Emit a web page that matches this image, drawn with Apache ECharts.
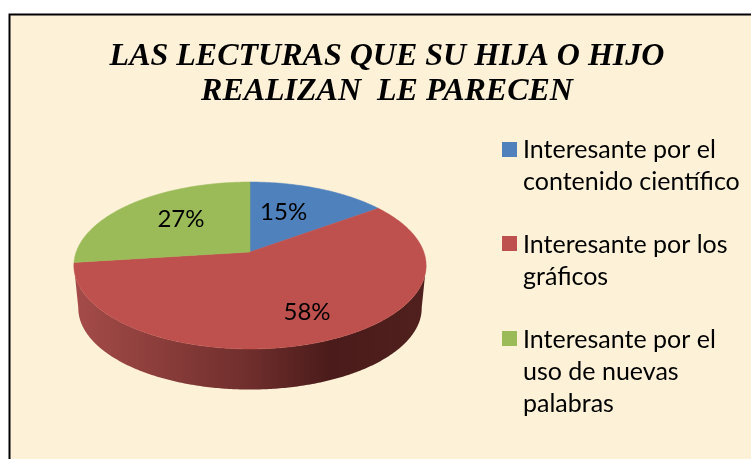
<!DOCTYPE html>
<html><head><meta charset="utf-8">
<style>html,body{margin:0;padding:0;background:#fff}#c{width:751px;height:459px}</style>
<script src="https://cdn.jsdelivr.net/npm/echarts@6/dist/echarts.min.js"></script>
</head><body><div id="c"></div>
<script>
const categories = ["Interesante por el contenido científico","Interesante por los gráficos","Interesante por el uso de nuevas palabras"];
const values = [15, 58, 27];
const legendLabels = ["Interesante por el\ncontenido científico","Interesante por los\ngráficos","Interesante por el\nuso de nuevas\npalabras"];
const colors = ["#4F81BD","#BE504D","#9BBB59"];
const titleText = "LAS LECTURAS QUE SU HIJA O HIJO\nREALIZAN  LE PARECEN";

// pie projection
const cx=250, cy=252, A=173.8, B=81.3, K=0.1617, DEPTH=43, BASE=0.975;
const FRONT_FROM=99*Math.PI/180, FRONT_TO=261*Math.PI/180;
const total = values.reduce((a,b)=>a+b,0);
const starts=[]; values.reduce((s,v,i)=>{starts[i]=s;return s+v;},0);
const startAngle=i=>starts[i]/total*2*Math.PI;
const endAngle=i=>(starts[i]+values[i])/total*2*Math.PI;
function proj(t,r,low){
  const u=r*Math.sin(t), v=r*Math.cos(t), w=1+K*v, s=low?BASE:1;
  return [cx+A*s*u/w, cy+(low?DEPTH:0)-B*s*v/w];
}
function arc(a,b,low){
  const n=Math.ceil((b-a)*90), p=[];
  for(let j=0;j<=n;j++) p.push(proj(a+(b-a)*j/n,1,low));
  return p;
}
const labelRadius=[0.6,0.7,0.57];
const labelNudge=[[-10,0],[7,1],[1,-4]];
const wallStops=[
 [{offset:0,color:"#22385a"},{offset:1,color:"#22385a"}],
 [{offset:0,color:"#a54c49"},{offset:0.5,color:"#6f2e2c"},{offset:0.73,color:"#4a1b1a"},{offset:1,color:"#50201e"}],
 [{offset:0,color:"#55672f"},{offset:1,color:"#55672f"}]
];

const wallSeries={type:'custom',coordinateSystem:'none',z:1,silent:true,
 data:values.map(v=>[v]),
 renderItem(p){
  const i=p.dataIndex, a=Math.max(startAngle(i),FRONT_FROM), b=Math.min(endAngle(i),FRONT_TO);
  if(b<=a) return null;
  const pts=arc(a,b,false).concat(arc(a,b,true).reverse());
  const fill=new echarts.graphic.LinearGradient(73,0,426,0,wallStops[i],true);
  return {type:'polygon',shape:{points:pts},style:{fill:fill}};
 }};
const topSeries=categories.map((name,i)=>({type:'custom',name:name,coordinateSystem:'none',z:2,silent:true,
 itemStyle:{color:colors[i]},
 data:[[values[i]]],
 renderItem(){
  const pts=[[cx,cy]].concat(arc(startAngle(i),endAngle(i),false));
  const t=(startAngle(i)+endAngle(i))/2, c=proj(t,labelRadius[i],false);
  return {type:'group',children:[
   {type:'polygon',shape:{points:pts},style:{fill:colors[i],stroke:colors[i],lineWidth:0.5}},
   {type:'text',z2:5,style:{x:c[0]+labelNudge[i][0],y:c[1]+labelNudge[i][1],text:values[i]+'%',fill:'#000',
     font:'24px Lato',align:'center',verticalAlign:'middle'}}
  ]};
 }}));

const legendTops=[134,229,324];
const legendHeights=[64,64,96];
const iconOffsets=[8,7,7];
const legends=categories.map((name,i)=>({
  show:true,orient:'vertical',left:502,top:legendTops[i],padding:0,data:[name],
  selectedMode:false,itemWidth:15,itemHeight:legendHeights[i],itemGap:0,
  icon:'path://M0 0H15V0H0Z M0 '+iconOffsets[i]+'H15V'+(iconOffsets[i]+15)+'H0Z M0 '+legendHeights[i]+'H15V'+legendHeights[i]+'H0Z',
  formatter:()=>legendLabels[i],
  textStyle:{fontFamily:'Lato',fontSize:25,lineHeight:32,color:'#000',padding:[0,0,0,1]}
}));

const chart=echarts.init(document.getElementById('c'),null,{renderer:'canvas'});
chart.setOption({
 animation:false,backgroundColor:'#fff',
 title:{text:titleText,left:387,top:39,textAlign:'center',padding:0,
  textStyle:{fontFamily:'Liberation Serif',fontStyle:'italic',fontWeight:'bold',fontSize:32,lineHeight:35,color:'#000'}},
 legend:legends,
 graphic:{elements:[
  {type:'rect',z:0,shape:{x:9.5,y:14.5,width:780,height:480},style:{fill:'#fdf1d8',stroke:'#000',lineWidth:2}}
 ]},
 series:[wallSeries].concat(topSeries)
});
</script></body></html>
